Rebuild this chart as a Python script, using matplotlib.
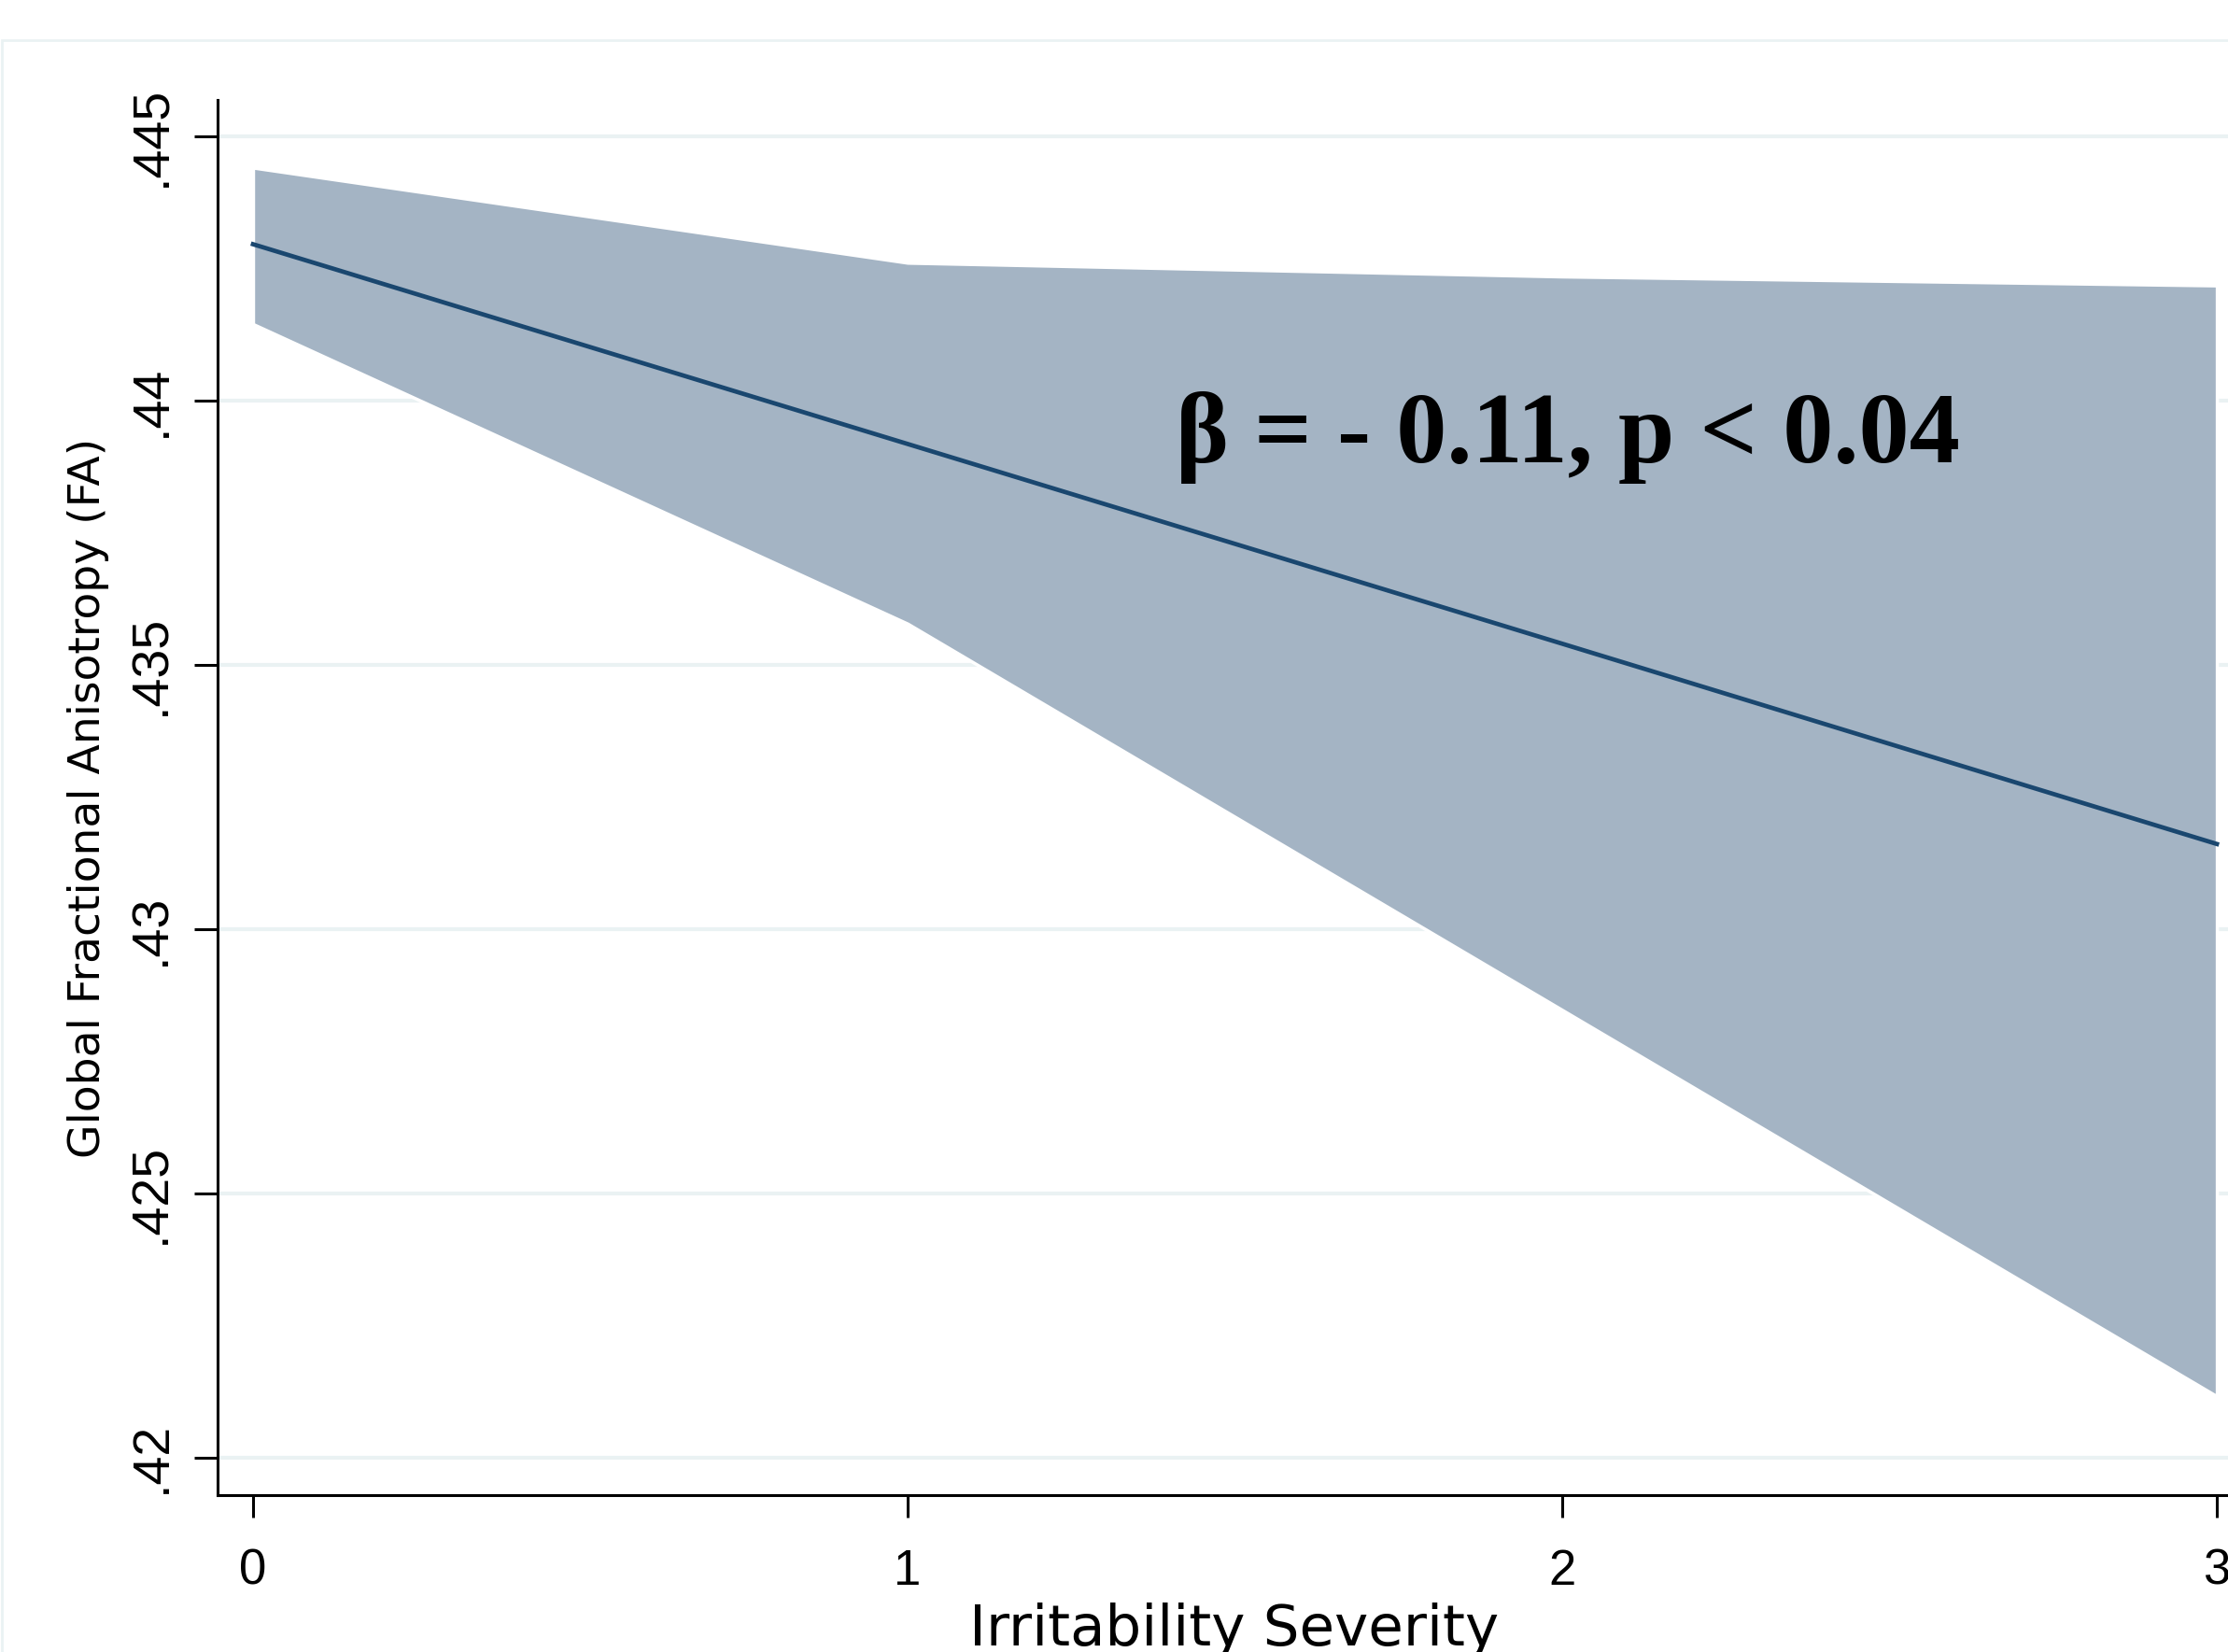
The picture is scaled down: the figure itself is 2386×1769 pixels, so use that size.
import matplotlib.pyplot as plt
from matplotlib.patches import Rectangle

# data
severity = [0, 1, 2, 3]
fa_fit = [0.44296, 0.43918, 0.43540, 0.43161]
fa_upper = [0.44441, 0.44261, 0.44235, 0.44218]
fa_lower = [0.44145, 0.43578, 0.42847, 0.42116]

y_ticks = [0.42, 0.425, 0.43, 0.435, 0.44, 0.445]
y_tick_labels = [".42", ".425", ".43", ".435", ".44", ".445"]
x_ticks = [0, 1, 2, 3]

grid_color = "#EAF2F3"
fill_color = "#A4B4C4"
line_color = "#1A476F"

fig = plt.figure(figsize=(23.86, 17.69), dpi=100)

# faint outer border of the graph region (cropped)
fig.patches.append(Rectangle((0.0008, -0.1), 1.2, 1.0757, transform=fig.transFigure,
                             fill=False, edgecolor=grid_color, linewidth=2))

ax = fig.add_axes([0.0977, 0.0950, 0.912, 0.8445])

# grid
for yv in y_ticks:
    ax.axhline(yv, color=grid_color, linewidth=3, zorder=0)

# confidence band and fit line
ax.fill_between(severity, fa_lower, fa_upper, facecolor=fill_color,
                edgecolor="white", linewidth=2.5, zorder=2)
ax.plot(severity, fa_fit, color=line_color, linewidth=3.4, zorder=3)

ax.set_xlim(-0.054, 3.05)
ax.set_ylim(0.41929, 0.44569)

ax.spines["top"].set_visible(False)
ax.spines["right"].set_visible(False)
ax.spines["left"].set_linewidth(2.2)
ax.spines["bottom"].set_linewidth(2.2)

ax.set_yticks(y_ticks)
ax.set_yticklabels(y_tick_labels, rotation=90, va="center",
                   fontfamily="Liberation Sans", fontsize=40)
ax.set_xticks(x_ticks)
ax.set_xticklabels([str(v) for v in x_ticks], fontfamily="Liberation Sans", fontsize=38)
ax.tick_params(axis="y", length=18, width=2.2, pad=14)
ax.tick_params(axis="x", length=17, width=2.2, pad=24)

ax.set_ylabel("Global Fractional Anisotropy (FA)", fontfamily="DejaVu Sans",
              fontsize=34, labelpad=14)
ax.set_xlabel("Irritability Severity", fontfamily="DejaVu Sans", fontsize=44, labelpad=6)

ax.text(1.41, 0.43884, "β = - 0.11, p < 0.04", fontfamily="Liberation Serif",
        fontweight="bold", fontsize=78, ha="left", va="baseline", zorder=4)

fig.savefig("out.png", dpi=100, facecolor="white")
